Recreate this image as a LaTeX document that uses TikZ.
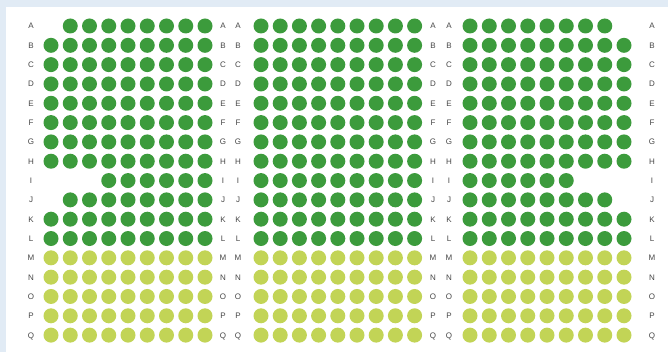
\documentclass[tikz,border=0pt]{standalone}
\usepackage{fontspec}
\setmainfont{Liberation Sans}
\usetikzlibrary{positioning}
\definecolor{seatdark}{HTML}{3C9B3C}
\definecolor{seatlite}{HTML}{C2D456}
\definecolor{pagebg}{HTML}{E1EBF5}
\definecolor{rowtxt}{HTML}{474747}

\begin{document}
\begin{tikzpicture}[x=1pt, y=-1pt,
  dk/.style={circle, fill=seatdark, minimum size=15pt, inner sep=0pt},
  lt/.style={circle, fill=seatlite, minimum size=15pt, inner sep=0pt},
  lbl/.style={font=\fontsize{8}{9}\selectfont, text=rowtxt, inner sep=0pt, text height=5.8pt, text depth=0pt}]
\fill[pagebg] (0,0) rectangle (668,352);
\fill[white] (6,7) rectangle (668,352);
\useasboundingbox (0,0) rectangle (668,352);
% rows: name / left block first..last / right block first..last
\foreach \r/\lf/\ll/\rf/\rl [count=\j] in {A/2/9/1/8, B/1/9/1/9, C/1/9/1/9, D/1/9/1/9, E/1/9/1/9, F/1/9/1/9, G/1/9/1/9, H/1/9/1/9, I/4/9/1/6, J/2/9/1/8, K/1/9/1/9, L/1/9/1/9, M/1/9/1/9, N/1/9/1/9, O/1/9/1/9, P/1/9/1/9, Q/1/9/1/9} {
  \pgfmathsetmacro\rowy{26+(\j-1)*19.32}
  \ifnum\j>12 \def\seatst{lt}\else\def\seatst{dk}\fi
  \foreach \c in {\lf,...,\ll} \node[\seatst] (l-\r-\c) at ({51+(\c-1)*19.25},\rowy) {};
  \foreach \c in {1,...,9} \node[\seatst] (m-\r-\c) at ({261+(\c-1)*19.2},\rowy) {};
  \foreach \c in {\rf,...,\rl} \node[\seatst] (r-\r-\c) at ({470+(\c-1)*19.25},\rowy) {};
  \foreach \x [count=\k] in {31,223,238,433,449,652} \node[lbl] (t\k-\r) at (\x,\rowy) {\r};
}
\end{tikzpicture}
\end{document}
